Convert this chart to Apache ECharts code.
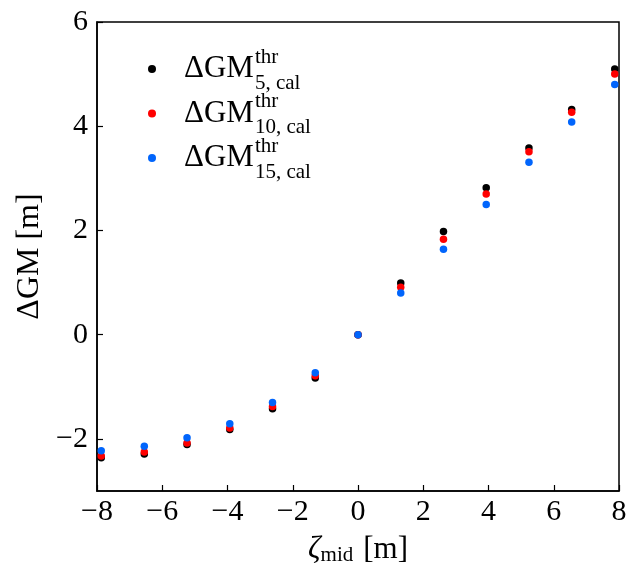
<!DOCTYPE html>
<html>
<head>
<meta charset="utf-8">
<script src="https://cdn.jsdelivr.net/npm/echarts@6/dist/echarts.min.js"></script>
<style>html,body{margin:0;padding:0;background:#fff}#c{width:634px;height:571px}</style>
</head>
<body>
<div id="c"></div>
<script>
const zetaMid = [-7.87, -6.55, -5.24, -3.93, -2.62, -1.31, 0, 1.31, 2.62, 3.93, 5.24, 6.55, 7.87];
const gm5  = [-2.36, -2.29, -2.11, -1.82, -1.42, -0.83, 0, 0.99, 1.98, 2.82, 3.58, 4.32, 5.10];
const gm10 = [-2.33, -2.25, -2.08, -1.79, -1.38, -0.79, 0, 0.91, 1.83, 2.70, 3.51, 4.27, 5.00];
const gm15 = [-2.23, -2.14, -1.98, -1.71, -1.30, -0.73, 0, 0.80, 1.64, 2.50, 3.31, 4.08, 4.80];
const seriesNames = ['5, cal', '10, cal', '15, cal'];
const seriesColors = ['#000000', '#ff0000', '#0165fc'];
const xTicks = [-8, -6, -4, -2, 0, 2, 4, 6, 8];
const yTicks = [-2, 0, 2, 4, 6];

const FONT = '"Liberation Serif", "DejaVu Serif", serif';
const fmt = v => (v < 0 ? '\u2212' + Math.abs(v) : String(v));
const allY = [gm5, gm10, gm15];

const chart = echarts.init(document.getElementById('c'), null, {renderer: 'canvas'});

// legend label layout (text drawn as graphic so super/subscripts can stack)
const legTop = 65, legRowGap = 44.5, legTextX = 184;
const mctx = document.createElement('canvas').getContext('2d');
mctx.font = '31px ' + FONT;
const wMain = mctx.measureText('\u0394GM').width;
const legendGraphics = [];
seriesNames.forEach((n, k) => {
  const cy = legTop + 4 + k * legRowGap;
  legendGraphics.push({type: 'text', x: legTextX, y: cy, silent: true,
    style: {text: '\u0394GM', font: '31px ' + FONT, fill: '#000', verticalAlign: 'middle', align: 'left'}});
  legendGraphics.push({type: 'text', x: legTextX + wMain + 1, y: cy - 12, silent: true,
    style: {text: 'thr', font: '21px ' + FONT, fill: '#000', verticalAlign: 'middle', align: 'left'}});
  legendGraphics.push({type: 'text', x: legTextX + wMain + 1, y: cy + 14, silent: true,
    style: {text: n, font: '21px ' + FONT, fill: '#000', verticalAlign: 'middle', align: 'left'}});
});

const option = {
  animation: false,
  backgroundColor: '#fff',
  grid: {left: 97, right: 15, top: 22, bottom: 77, show: true, borderColor: '#000', borderWidth: 1.5, backgroundColor: 'transparent'},
  legend: {
    orient: 'vertical', left: 148, top: legTop, itemGap: legRowGap - 8,
    itemWidth: 8, itemHeight: 8, icon: 'circle', padding: 0,
    data: seriesNames,
    formatter: () => '',
    textStyle: {fontSize: 8, lineHeight: 8}
  },
  graphic: legendGraphics,
  xAxis: {
    type: 'value', min: -8, max: 8,
    name: '{i|\u03b6}{s|mid}{r|[m]}', nameLocation: 'middle', nameGap: 42,
    nameTextStyle: {rich: {
      i: {fontFamily: FONT, fontStyle: 'italic', fontSize: 31, color: '#000'},
      s: {fontFamily: FONT, fontSize: 21, color: '#000', padding: [12, 0, 0, 0]},
      r: {fontFamily: FONT, fontSize: 31, color: '#000', padding: [0, 0, 0, 10]}
    }},
    axisLine: {onZero: false, lineStyle: {color: '#000', width: 1.5}},
    axisTick: {inside: true, length: 6, customValues: xTicks, lineStyle: {color: '#000', width: 1.2}},
    axisLabel: {customValues: xTicks, formatter: fmt, fontFamily: FONT, fontSize: 30, color: '#000', margin: 6},
    splitLine: {show: false}
  },
  yAxis: {
    type: 'value', min: -3, max: 6,
    name: '\u0394GM [m]', nameLocation: 'middle', nameGap: 50, nameRotate: 90,
    nameTextStyle: {fontFamily: FONT, fontSize: 32, color: '#000'},
    axisLine: {onZero: false, lineStyle: {color: '#000', width: 1.5}},
    axisTick: {inside: true, length: 6, customValues: yTicks, lineStyle: {color: '#000', width: 1.2}},
    axisLabel: {customValues: yTicks, formatter: fmt, fontFamily: FONT, fontSize: 30, color: '#000', margin: 9},
    splitLine: {show: false}
  },
  series: seriesNames.map((n, k) => ({
    name: n, type: 'scatter', symbol: 'circle', symbolSize: 7.5,
    itemStyle: {color: seriesColors[k], opacity: 1},
    data: zetaMid.map((x, i) => [x, allY[k][i]]),
    z: 2 + k
  }))
};
chart.setOption(option);
</script>
</body>
</html>
